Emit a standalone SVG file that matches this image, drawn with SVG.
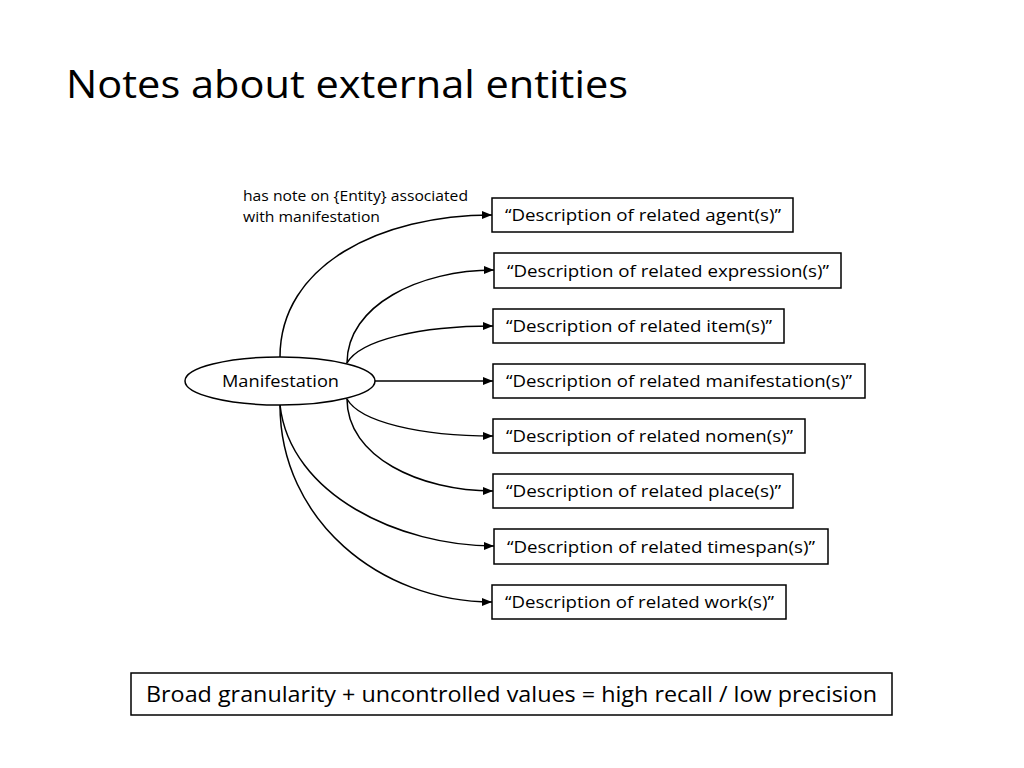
<svg xmlns="http://www.w3.org/2000/svg" width="1024" height="768" viewBox="0 0 1024 768">
<style>
text{font-family:"Open Sans","Liberation Sans",Arial,sans-serif;fill:#000}
.b rect{fill:#fff;stroke:#000;stroke-width:1.5}
.b text{font-size:16px}
.c path{fill:none;stroke:#000;stroke-width:1.5;marker-end:url(#a)}
</style>
<defs><marker id="a" markerWidth="10" markerHeight="8" refX="10" refY="4" orient="auto" markerUnits="userSpaceOnUse"><path d="M0,0 L10,4 L0,8z" fill="#000"/></marker></defs>
<rect width="1024" height="768" fill="#fff"/>
<text x="66" y="98" font-size="38" textLength="562" lengthAdjust="spacingAndGlyphs">Notes about external entities</text>
<text x="243" y="201" font-size="14" textLength="225" lengthAdjust="spacingAndGlyphs">has note on {Entity} associated</text>
<text x="243" y="222" font-size="14" textLength="137" lengthAdjust="spacingAndGlyphs">with manifestation</text>
<g class="c">
<path d="M280,357 C280,265 380,215 492,215"/>
<path d="M347,363 C347,305 420,270 494,270"/>
<path d="M347,363 C360,340 420,326 493,326"/>
<path d="M375,381 L493,381"/>
<path d="M347,399 C360,422 420,436 493,436"/>
<path d="M347,399 C347,457 420,491 493,491"/>
<path d="M280,405 C290,495 400,546 494,546"/>
<path d="M280,405 C280,520 380,602 492,602"/>
</g>
<g id="manifestation" class="b"><ellipse cx="280" cy="381" rx="95" ry="24" fill="#fff" stroke="#000" stroke-width="1.5"/><text x="222" y="387" textLength="117" lengthAdjust="spacingAndGlyphs">Manifestation</text></g>
<g id="n1" class="b"><rect x="492" y="198" width="301" height="34"/><text x="505" y="221" textLength="276" lengthAdjust="spacingAndGlyphs">“Description of related agent(s)”</text></g>
<g id="n2" class="b"><rect x="494" y="253" width="347" height="35"/><text x="507" y="277" textLength="322" lengthAdjust="spacingAndGlyphs">“Description of related expression(s)”</text></g>
<g id="n3" class="b"><rect x="493" y="309" width="291" height="34"/><text x="506" y="332" textLength="266" lengthAdjust="spacingAndGlyphs">“Description of related item(s)”</text></g>
<g id="n4" class="b"><rect x="493" y="364" width="372" height="34"/><text x="506" y="387" textLength="346" lengthAdjust="spacingAndGlyphs">“Description of related manifestation(s)”</text></g>
<g id="n5" class="b"><rect x="493" y="419" width="312" height="34"/><text x="506" y="442" textLength="287" lengthAdjust="spacingAndGlyphs">“Description of related nomen(s)”</text></g>
<g id="n6" class="b"><rect x="493" y="474" width="300" height="34"/><text x="506" y="497" textLength="275" lengthAdjust="spacingAndGlyphs">“Description of related place(s)”</text></g>
<g id="n7" class="b"><rect x="494" y="529" width="334" height="35"/><text x="507" y="553" textLength="308" lengthAdjust="spacingAndGlyphs">“Description of related timespan(s)”</text></g>
<g id="n8" class="b"><rect x="492" y="585" width="294" height="34"/><text x="505" y="608" textLength="269" lengthAdjust="spacingAndGlyphs">“Description of related work(s)”</text></g>
<g id="note" class="b"><rect x="131" y="673" width="761" height="42"/><text x="146" y="702" style="font-size:22px" textLength="731" lengthAdjust="spacingAndGlyphs">Broad granularity + uncontrolled values = high recall / low precision</text></g>
</svg>
